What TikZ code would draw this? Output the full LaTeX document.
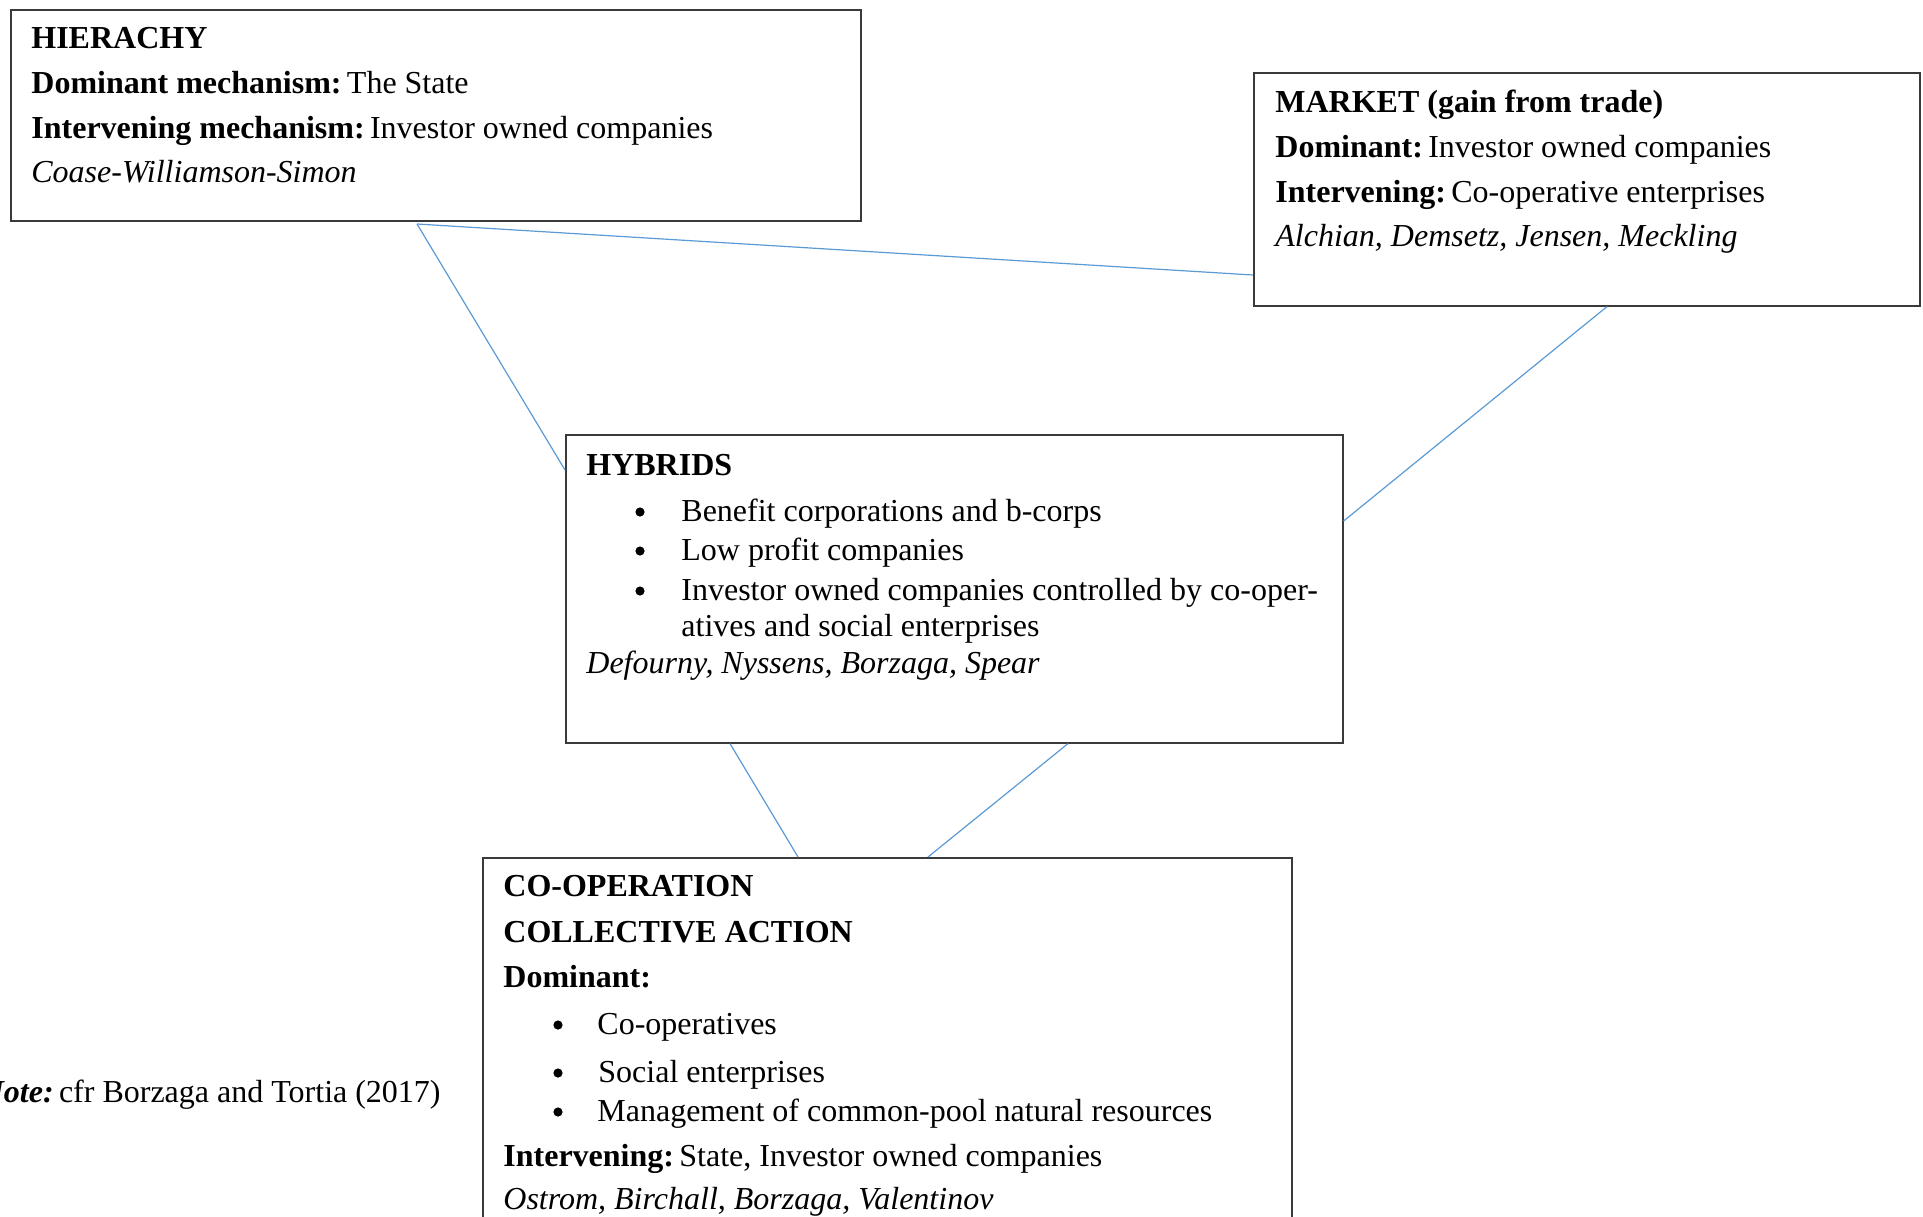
\documentclass[tikz,border=0pt]{standalone}
\usepackage{fontspec}
\setmainfont{Liberation Serif}
\usetikzlibrary{calc}
\definecolor{linkblue}{HTML}{5B9BD5}
\definecolor{boxline}{HTML}{3A3A3A}
\tikzset{
  box/.style={draw=boxline, line width=0.8pt, rectangle, anchor=north west, inner sep=0pt, fill=none},
  txt/.style={anchor=base west, inner sep=0pt, font=\fontsize{16}{22.5}\selectfont},
  bul/.style={circle, fill=black, draw=none, inner sep=0pt, minimum size=4.6pt},
  link/.style={draw=linkblue, line width=0.6pt},
}
\begin{document}
\begin{tikzpicture}[x=0.5pt,y=-0.5pt]
\useasboundingbox[fill=white] (0,0) rectangle (1923,1216);
% boxes
\node[box, minimum width=425pt, minimum height=105.5pt] (hier) at (10,9) {};
\node[box, minimum width=333pt, minimum height=116.5pt] (mkt) at (1253,72) {};
\node[box, minimum width=388.5pt, minimum height=154pt] (hyb) at (565,434) {};
\node[box, minimum width=404.5pt, minimum height=195pt] (coop) at (482,857) {};
% hierarchy text
\node[txt] (h1) at (31,48) {\textbf{HIERACHY}};
\node[txt] (h2) at (31,93) {\textbf{Dominant mechanism:}\,The State};
\node[txt] (h3) at (31,138) {\textbf{Intervening mechanism:}\,Investor owned companies};
\node[txt] (h4) at (31,182) {\textit{Coase-Williamson-Simon}};
% market text
\node[txt] (m1) at (1275,112) {\textbf{MARKET (gain from trade)}};
\node[txt] (m2) at (1275,157) {\textbf{Dominant:}\,Investor owned companies};
\node[txt] (m3) at (1275,202) {\textbf{Intervening:}\,Co-operative enterprises};
\node[txt] (m4) at (1275,246) {\textit{Alchian, Demsetz, Jensen, Meckling}};
% hybrids text
\node[txt] (y1) at (586,475) {\textbf{HYBRIDS}};
\node[bul] (yb1) at (640,512) {};
\node[txt] (y2) at (681,521) {Benefit corporations and b-corps};
\node[bul] (yb2) at (640,551) {};
\node[txt] (y3) at (681,560) {Low profit companies};
\node[bul] (yb3) at (640,591) {};
\node[txt] (y4) at (681,600) {Investor owned companies controlled by co-oper-};
\node[txt] (y5) at (681,636) {atives and social enterprises};
\node[txt] (y6) at (586,673) {\textit{Defourny, Nyssens, Borzaga, Spear}};
% cooperation text
\node[txt] (c1) at (503,896) {\textbf{CO-OPERATION}};
\node[txt] (c2) at (503,942) {\textbf{COLLECTIVE ACTION}};
\node[txt] (c3) at (503,987) {\textbf{Dominant:}};
\node[bul] (cb1) at (558,1025) {};
\node[txt] (c4) at (597,1034) {Co-operatives};
\node[bul] (cb2) at (558,1073) {};
\node[txt] (c5) at (598,1082) {Social enterprises};
\node[bul] (cb3) at (558,1112) {};
\node[txt] (c6) at (597,1121) {Management of common-pool natural resources};
\node[txt] (c7) at (503,1166) {\textbf{Intervening:}\,State, Investor owned companies};
\node[txt] (c8) at (503,1209) {\textit{Ostrom, Birchall, Borzaga, Valentinov}};
% note
\node[txt, anchor=base east] (note) at (441,1102) {\textbf{\textit{Note:}}\,cfr Borzaga and Tortia (2017)};
% connectors
\coordinate (j) at (417,224);
\draw[link] (j) -- ($(hyb.north west)+(0,36)$);
\draw[link] (j) -- ($(mkt.north west)+(0,203)$);
\draw[link] ($(mkt.south west)+(354,0)$) -- ($(hyb.north east)+(0,87)$);
\draw[link] ($(hyb.south west)+(165,0)$) -- ($(coop.north west)+(316,0)$);
\draw[link] ($(hyb.south west)+(503,0)$) -- ($(coop.north west)+(446,0)$);
\end{tikzpicture}
\end{document}
